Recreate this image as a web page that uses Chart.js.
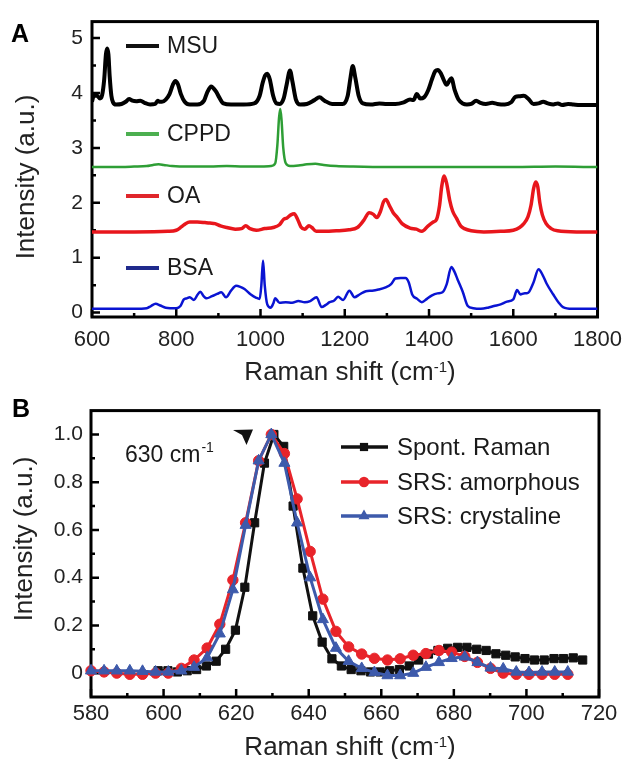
<!DOCTYPE html>
<html>
<head>
<meta charset="utf-8">
<script src="https://cdn.jsdelivr.net/npm/chart.js@4.4.1/dist/chart.umd.min.js"></script>
<style>
body { margin: 0; background: #fff; }
#wrap { position: relative; width: 632px; height: 759px; }
canvas { position: absolute; left: 0; }
</style>
</head>
<body>
<div id="wrap">
<canvas id="chart-a" width="632" height="390" style="top:0px"></canvas>
<canvas id="chart-b" width="632" height="369" style="top:390px"></canvas>
</div>
<script>
// ---- panel A: Raman spectra (offset) ----
const seriesA = ['MSU', 'CPPD', 'OA', 'BSA'];
const xTicksA = [600, 800, 1000, 1200, 1400, 1600, 1800];
const yTicksA = [0, 1, 2, 3, 4, 5];

const msuX = [600, 604, 612, 619, 624, 629, 633, 636, 639, 642, 646, 650, 657, 670, 680, 688, 696, 705, 715, 725,
    738, 750, 756, 760, 766, 775, 784, 792, 798, 804, 811, 820, 832, 850, 866, 874, 883, 889, 895, 902,
    912, 930, 960, 985, 998, 1005, 1011, 1016, 1022, 1030, 1038, 1046, 1055, 1062, 1070, 1076, 1084, 1094, 1110, 1128,
    1140, 1152, 1170, 1195, 1207, 1214, 1219, 1225, 1233, 1243, 1262, 1282, 1300, 1320, 1340, 1355, 1363, 1371, 1379, 1388,
    1398, 1407, 1415, 1421, 1428, 1436, 1442, 1448, 1453, 1461, 1470, 1480, 1490, 1500, 1512, 1522, 1535, 1550, 1562, 1580,
    1595, 1605, 1615, 1625, 1635, 1648, 1660, 1671, 1682, 1695, 1706, 1716, 1730, 1743, 1758, 1780, 1800];
const msuY = [3.84, 3.95, 3.95, 3.90, 3.96, 4.25, 4.70, 4.81, 4.70, 4.30, 3.95, 3.83, 3.79, 3.80, 3.84, 3.89, 3.86, 3.85, 3.86, 3.82,
    3.79, 3.80, 3.86, 3.84, 3.84, 3.88, 3.98, 4.15, 4.22, 4.16, 3.98, 3.84, 3.79, 3.79, 3.86, 4.02, 4.12, 4.08, 4.02, 3.92,
    3.81, 3.79, 3.79, 3.81, 3.95, 4.18, 4.32, 4.35, 4.25, 3.95, 3.81, 3.80, 3.90, 4.15, 4.41, 4.20, 3.88, 3.79, 3.80, 3.87,
    3.92, 3.86, 3.80, 3.80, 3.95, 4.30, 4.49, 4.28, 3.95, 3.81, 3.79, 3.81, 3.80, 3.80, 3.83, 3.88, 3.87, 3.98, 3.90, 3.92,
    4.05, 4.25, 4.40, 4.42, 4.36, 4.22, 4.15, 4.22, 4.27, 4.05, 3.88, 3.81, 3.79, 3.80, 3.86, 3.82, 3.80, 3.82, 3.80, 3.79,
    3.83, 3.93, 3.94, 3.95, 3.90, 3.80, 3.81, 3.84, 3.81, 3.79, 3.81, 3.78, 3.80, 3.79, 3.78, 3.78, 3.78];

const cppdX = [600, 650, 700, 730, 745, 758, 770, 790, 830, 880, 920, 960, 1000, 1025, 1035, 1040, 1044, 1047, 1050, 1054,
    1060, 1070, 1090, 1110, 1130, 1150, 1180, 1220, 1300, 1400, 1500, 1600, 1700, 1800];
const cppdY = [2.65, 2.65, 2.66, 2.67, 2.69, 2.70, 2.69, 2.67, 2.66, 2.66, 2.67, 2.66, 2.66, 2.67, 2.72, 3.05, 3.55, 3.71, 3.50, 3.00,
    2.72, 2.67, 2.68, 2.70, 2.71, 2.69, 2.67, 2.66, 2.65, 2.65, 2.65, 2.65, 2.66, 2.65];

const oaX = [600, 700, 780, 800, 812, 822, 832, 850, 868, 880, 892, 905, 920, 940, 955, 965, 975, 990, 1010, 1030,
    1045, 1055, 1062, 1072, 1080, 1088, 1096, 1105, 1115, 1122, 1132, 1150, 1180, 1210, 1230, 1245, 1258, 1268, 1276, 1285,
    1292, 1298, 1306, 1315, 1325, 1336, 1355, 1370, 1383, 1398, 1410, 1418, 1425, 1430, 1436, 1442, 1449, 1456, 1465, 1475,
    1484, 1500, 1530, 1570, 1600, 1615, 1625, 1635, 1642, 1648, 1653, 1658, 1663, 1669, 1678, 1690, 1705, 1750, 1800];
const oaY = [1.47, 1.47, 1.48, 1.50, 1.56, 1.62, 1.65, 1.65, 1.64, 1.63, 1.62, 1.58, 1.55, 1.52, 1.53, 1.58, 1.53, 1.50, 1.53, 1.55,
    1.60, 1.70, 1.72, 1.78, 1.80, 1.70, 1.56, 1.52, 1.58, 1.55, 1.48, 1.48, 1.49, 1.51, 1.55, 1.68, 1.82, 1.79, 1.73, 1.85,
    2.02, 2.06, 1.95, 1.82, 1.73, 1.62, 1.54, 1.52, 1.48, 1.58, 1.65, 1.70, 1.95, 2.29, 2.49, 2.35, 2.05, 1.85, 1.72, 1.58,
    1.53, 1.49, 1.47, 1.48, 1.50, 1.55, 1.62, 1.75, 1.95, 2.25, 2.38, 2.30, 2.00, 1.78, 1.62, 1.53, 1.49, 1.47, 1.47];

const bsaX = [600, 700, 730, 740, 751, 762, 775, 800, 810, 818, 825, 832, 842, 850, 857, 865, 872, 885, 897, 907,
    918, 930, 942, 952, 962, 977, 990, 998, 1002, 1006, 1010, 1016, 1024, 1030, 1035, 1045, 1060, 1075, 1090, 1105,
    1118, 1133, 1145, 1155, 1164, 1175, 1184, 1196, 1211, 1223, 1235, 1250, 1265, 1280, 1297, 1310, 1320, 1333, 1344, 1352,
    1360, 1372, 1383, 1395, 1406, 1420, 1432, 1442, 1453, 1460, 1468, 1480, 1492, 1505, 1523, 1540, 1554, 1570, 1585, 1600,
    1609, 1617, 1625, 1635, 1648, 1660, 1670, 1679, 1695, 1708, 1718, 1740, 1800];
const bsaY = [0.07, 0.07, 0.08, 0.12, 0.16, 0.13, 0.09, 0.08, 0.12, 0.24, 0.26, 0.28, 0.23, 0.32, 0.38, 0.30, 0.26, 0.30, 0.34, 0.37,
    0.28, 0.40, 0.49, 0.47, 0.43, 0.33, 0.27, 0.25, 0.50, 0.95, 0.50, 0.15, 0.09, 0.16, 0.26, 0.18, 0.19, 0.18, 0.21, 0.19,
    0.21, 0.28, 0.10, 0.14, 0.19, 0.22, 0.29, 0.23, 0.40, 0.28, 0.33, 0.39, 0.40, 0.42, 0.46, 0.52, 0.62, 0.63, 0.63, 0.55,
    0.33, 0.25, 0.19, 0.25, 0.31, 0.35, 0.37, 0.52, 0.83, 0.75, 0.60, 0.38, 0.12, 0.08, 0.07, 0.09, 0.12, 0.15, 0.20, 0.24,
    0.41, 0.33, 0.35, 0.36, 0.55, 0.79, 0.68, 0.53, 0.33, 0.18, 0.10, 0.07, 0.07];

// ---- panel B: 630 cm-1 band ----
const seriesB = ['Spont. Raman', 'SRS: amorphous', 'SRS: crystaline'];
const xTicksB = [580, 600, 620, 640, 660, 680, 700, 720];
const yTicksB = [0, 0.2, 0.4, 0.6, 0.8, 1.0];

const spontX = [598.5, 601.2, 603.8, 606.5, 609.1, 611.8, 614.5, 617.1, 619.8, 622.4, 625.1, 627.8, 630.4, 633.1, 635.7,
    638.4, 641.1, 643.7, 646.4, 649.0, 651.7, 654.4, 657.0, 659.7, 662.3, 665.0, 667.7, 670.3, 673.0, 675.6,
    678.3, 681.0, 683.6, 686.3, 688.9, 691.6, 694.3, 696.9, 699.6, 702.2, 704.9, 707.6, 710.2, 712.9, 715.5];
const spontY = [0.01, 0.01, 0.005, 0.01, 0.015, 0.03, 0.05, 0.10, 0.18, 0.36, 0.63, 0.88, 1.0, 0.95, 0.70,
    0.44, 0.24, 0.13, 0.06, 0.03, 0.015, 0.01, 0.005, 0.005, 0.01, 0.015, 0.03, 0.055, 0.08, 0.095,
    0.104, 0.108, 0.108, 0.10, 0.095, 0.081, 0.075, 0.068, 0.061, 0.055, 0.055, 0.061, 0.061, 0.064, 0.055];

const srsX = [580.0, 583.6, 587.1, 590.7, 594.2, 597.8, 601.3, 604.9, 608.4, 612.0, 615.5, 619.1, 622.6, 626.2, 629.7,
    633.3, 636.8, 640.4, 643.9, 647.5, 651.0, 654.6, 658.1, 661.7, 665.2, 668.8, 672.3, 675.9, 679.4, 683.0,
    686.5, 690.1, 693.6, 697.2, 700.7, 704.3, 707.8, 711.4];
const amorY = [0.01, 0.005, 0.0, -0.005, -0.005, 0.0, 0.0, 0.02, 0.055, 0.105, 0.205, 0.39, 0.63, 0.89, 1.0,
    0.92, 0.73, 0.51, 0.31, 0.175, 0.11, 0.08, 0.062, 0.055, 0.06, 0.075, 0.082, 0.095, 0.088, 0.07,
    0.045, 0.02, 0.0, -0.005, -0.005, -0.005, -0.005, -0.005];
const crysY = [0.01, 0.01, 0.01, 0.01, 0.008, 0.005, 0.005, 0.01, 0.025, 0.065, 0.165, 0.35, 0.62, 0.89, 1.0,
    0.88, 0.63, 0.40, 0.225, 0.105, 0.05, 0.02, 0.003, -0.01, -0.01, 0.0, 0.025, 0.045, 0.062, 0.068,
    0.045, 0.022, 0.018, 0.005, 0.003, 0.005, 0.005, 0.005];

const FONT = "'Liberation Sans', Arial, sans-serif";
Chart.defaults.font.family = FONT;
Chart.defaults.color = '#222';

function pts(xs, ys) {
    return xs.map((x, i) => ({ x: x, y: ys[i] }));
}

function minorOf(ticks) {
    let out = [];
    for (let i = 0; i < ticks.length - 1; i++) out.push((ticks[i] + ticks[i + 1]) / 2);
    return out;
}

function drawXTitle(ctx, cx, y) {
    let main = 'Raman shift (cm', sup = '-1', tail = ')';
    ctx.fillStyle = '#222';
    ctx.textAlign = 'left';
    ctx.textBaseline = 'alphabetic';
    ctx.font = '26px ' + FONT;
    let w1 = ctx.measureText(main).width, w3 = ctx.measureText(tail).width;
    ctx.font = '15px ' + FONT;
    let w2 = ctx.measureText(sup).width;
    let x = cx - (w1 + w2 + w3) / 2;
    ctx.font = '26px ' + FONT;
    ctx.fillText(main, x, y);
    ctx.font = '15px ' + FONT;
    ctx.fillText(sup, x + w1, y - 8);
    ctx.font = '26px ' + FONT;
    ctx.fillText(tail, x + w1 + w2, y);
}

function drawYTitle(ctx, x, y) {
    ctx.save();
    ctx.translate(x, y);
    ctx.rotate(-Math.PI / 2);
    ctx.fillStyle = '#222';
    ctx.font = '26px ' + FONT;
    ctx.textAlign = 'center';
    ctx.textBaseline = 'middle';
    ctx.fillText('Intensity (a.u.)', 0, 0);
    ctx.restore();
}

function frameAndTicks(chart, xMaj, yMaj) {
    let ctx = chart.ctx, a = chart.chartArea;
    let xs = chart.scales.x, ys = chart.scales.y;
    ctx.save();
    ctx.strokeStyle = '#000';
    ctx.lineWidth = 2.5;
    ctx.beginPath();
    xMaj.forEach(v => { let p = xs.getPixelForValue(v); ctx.moveTo(p, a.bottom); ctx.lineTo(p, a.bottom - 8); });
    minorOf(xMaj).forEach(v => { let p = xs.getPixelForValue(v); ctx.moveTo(p, a.bottom); ctx.lineTo(p, a.bottom - 4); });
    yMaj.forEach(v => { let p = ys.getPixelForValue(v); ctx.moveTo(a.left, p); ctx.lineTo(a.left + 8, p); });
    minorOf(yMaj).forEach(v => { let p = ys.getPixelForValue(v); ctx.moveTo(a.left, p); ctx.lineTo(a.left + 4, p); });
    ctx.stroke();
    ctx.lineWidth = 3;
    ctx.strokeRect(a.left, a.top, a.right - a.left, a.bottom - a.top);
    ctx.restore();
}

// ---- chart A ----
const colorsA = ['#000000', '#2e9e35', '#e8161c', '#0a14d2'];
const legendColA = ['#111111', '#4caf50', '#e0262b', '#1f2a8c'];
const widthsA = [4, 2.5, 3.5, 2.5];
const legendYA = [46, 134, 196, 268];

const decoA = {
    id: 'decoA',
    beforeDatasetsDraw(chart) { frameAndTicks(chart, xTicksA, yTicksA); },
    afterDraw(chart) {
        let ctx = chart.ctx;
        ctx.save();
        ctx.fillStyle = '#000';
        ctx.font = 'bold 25px ' + FONT;
        ctx.textAlign = 'left';
        ctx.textBaseline = 'alphabetic';
        ctx.fillText('A', 11, 42);
        seriesA.forEach((name, i) => {
            ctx.strokeStyle = legendColA[i];
            ctx.lineWidth = 4;
            ctx.beginPath();
            ctx.moveTo(126, legendYA[i]);
            ctx.lineTo(159, legendYA[i]);
            ctx.stroke();
            ctx.fillStyle = '#1a1a1a';
            ctx.font = '23px ' + FONT;
            ctx.textBaseline = 'middle';
            ctx.fillText(name, 167, legendYA[i] + 1);
        });
        drawYTitle(ctx, 27, 177);
        drawXTitle(ctx, 350, 380);
        ctx.restore();
    }
};

new Chart(document.getElementById('chart-a'), {
    type: 'line',
    data: {
        datasets: [
            { label: seriesA[0], data: pts(msuX, msuY) },
            { label: seriesA[1], data: pts(cppdX, cppdY) },
            { label: seriesA[2], data: pts(oaX, oaY) },
            { label: seriesA[3], data: pts(bsaX, bsaY) }
        ].map((d, i) => Object.assign(d, {
            borderColor: colorsA[i],
            borderWidth: widthsA[i],
            pointRadius: 0,
            fill: false,
            cubicInterpolationMode: 'monotone'
        }))
    },
    options: {
        responsive: false,
        animation: false,
        devicePixelRatio: 1,
        events: [],
        layout: { padding: { left: 0, right: 27, top: 20, bottom: 0 } },
        scales: {
            x: {
                type: 'linear', min: 600, max: 1800,
                grid: { display: false, drawTicks: false },
                border: { display: false },
                afterBuildTicks: s => { s.ticks = xTicksA.map(v => ({ value: v })); },
                afterFit: s => { s.height = 73; },
                ticks: { font: { size: 22 }, padding: 10, maxRotation: 0, autoSkip: false, callback: v => String(v) }
            },
            y: {
                type: 'linear', min: -0.08, max: 5.3,
                grid: { display: false, drawTicks: false },
                border: { display: false },
                afterBuildTicks: s => { s.ticks = yTicksA.map(v => ({ value: v })); },
                afterFit: s => { s.width = 92; },
                ticks: { font: { size: 21 }, padding: 9, autoSkip: false, callback: v => String(v) }
            }
        },
        plugins: { legend: { display: false }, tooltip: { enabled: false } }
    },
    plugins: [decoA]
});

// ---- chart B ----
const colorsB = ['#111111', '#e8242a', '#3d5aab'];
const stylesB = ['rect', 'circle', 'triangle'];
const radiiB = [5.8, 5.2, 6.4];
const legendYB = [57, 92, 126];

function marker(ctx, style, x, y, r, col) {
    ctx.fillStyle = col;
    ctx.beginPath();
    if (style === 'rect') {
        let s = r * Math.SQRT1_2;
        ctx.rect(x - s, y - s, 2 * s, 2 * s);
    } else if (style === 'circle') {
        ctx.arc(x, y, r, 0, Math.PI * 2);
    } else {
        ctx.moveTo(x, y - r);
        ctx.lineTo(x + r * 0.866, y + r * 0.5);
        ctx.lineTo(x - r * 0.866, y + r * 0.5);
        ctx.closePath();
    }
    ctx.fill();
}

const decoB = {
    id: 'decoB',
    beforeDatasetsDraw(chart) { frameAndTicks(chart, xTicksB, yTicksB); },
    afterDraw(chart) {
        let ctx = chart.ctx;
        ctx.save();
        ctx.fillStyle = '#000';
        ctx.font = 'bold 25px ' + FONT;
        ctx.textAlign = 'left';
        ctx.textBaseline = 'alphabetic';
        ctx.fillText('B', 12, 27);
        seriesB.forEach((name, i) => {
            ctx.strokeStyle = colorsB[i];
            ctx.lineWidth = 3.5;
            ctx.beginPath();
            ctx.moveTo(341, legendYB[i]);
            ctx.lineTo(388, legendYB[i]);
            ctx.stroke();
            marker(ctx, stylesB[i], 364, legendYB[i], radiiB[i], colorsB[i]);
            ctx.fillStyle = '#1a1a1a';
            ctx.font = '24px ' + FONT;
            ctx.textBaseline = 'middle';
            ctx.fillText(name, 397, legendYB[i] + 1);
        });
        // peak marker and label
        ctx.fillStyle = '#111';
        ctx.beginPath();
        ctx.moveTo(233, 40);
        ctx.lineTo(253, 39.5);
        ctx.lineTo(246.5, 55);
        ctx.lineTo(242, 45);
        ctx.closePath();
        ctx.fill();
        ctx.fillStyle = '#1a1a1a';
        ctx.font = '23px ' + FONT;
        ctx.textBaseline = 'alphabetic';
        ctx.fillText('630 cm', 125, 72);
        let w = ctx.measureText('630 cm').width;
        ctx.font = '14px ' + FONT;
        ctx.fillText('-1', 125 + w + 1, 62);
        drawYTitle(ctx, 25, 149);
        drawXTitle(ctx, 350, 365);
        ctx.restore();
    }
};

new Chart(document.getElementById('chart-b'), {
    type: 'line',
    data: {
        datasets: [
            { label: seriesB[0], data: pts(spontX, spontY), order: 3 },
            { label: seriesB[1], data: pts(srsX, amorY), order: 2 },
            { label: seriesB[2], data: pts(srsX, crysY), order: 1 }
        ].map((d, i) => Object.assign(d, {
            borderColor: colorsB[i],
            backgroundColor: colorsB[i],
            borderWidth: 3,
            pointStyle: stylesB[i],
            pointRadius: radiiB[i],
            pointBorderWidth: 1,
            pointBorderColor: colorsB[i],
            pointBackgroundColor: colorsB[i],
            fill: false,
            tension: 0,
            clip: false
        }))
    },
    options: {
        responsive: false,
        animation: false,
        devicePixelRatio: 1,
        events: [],
        layout: { padding: { left: 0, right: 33, top: 8, bottom: 0 } },
        scales: {
            x: {
                type: 'linear', min: 580, max: 720,
                grid: { display: false, drawTicks: false },
                border: { display: false },
                afterBuildTicks: s => { s.ticks = xTicksB.map(v => ({ value: v })); },
                afterFit: s => { s.height = 62; },
                ticks: { font: { size: 22 }, padding: 4, maxRotation: 0, autoSkip: false, callback: v => String(v) }
            },
            y: {
                type: 'linear', min: -0.1, max: 1.1,
                grid: { display: false, drawTicks: false },
                border: { display: false },
                afterBuildTicks: s => { s.ticks = yTicksB.map(v => ({ value: v })); },
                afterFit: s => { s.width = 91; },
                ticks: { font: { size: 21 }, padding: 8, autoSkip: false, callback: v => (v === 0 ? '0' : v.toFixed(1)) }
            }
        },
        plugins: { legend: { display: false }, tooltip: { enabled: false } }
    },
    plugins: [decoB]
});
</script>
</body>
</html>
